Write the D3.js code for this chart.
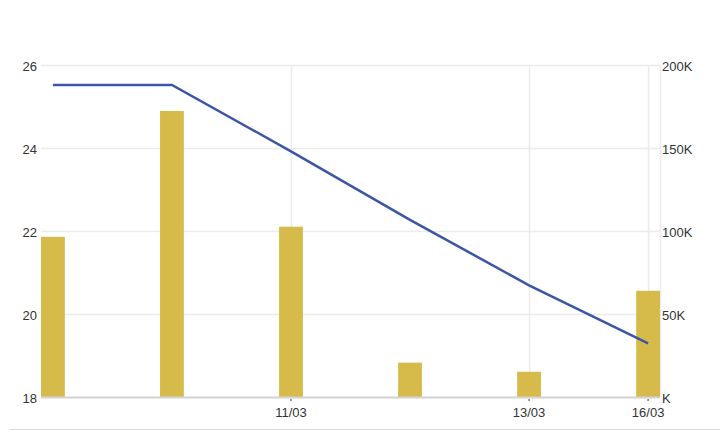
<!DOCTYPE html>
<html>
<head>
<meta charset="utf-8">
<script src="https://cdn.jsdelivr.net/npm/d3@7"></script>
<style>
  html, body { margin: 0; padding: 0; background: #fff; }
  svg { display: block; font-family: "Liberation Sans", Arial, sans-serif; }
</style>
</head>
<body>
<div id="chart"></div>
<script>
// Trading days (category axis), only some get a label
const dates = ['09/03', '10/03', '11/03', '12/03', '13/03', '16/03'];
const labeledDates = ['11/03', '13/03', '16/03'];

// Volume bars (right axis, thousands) and price line (left axis)
const volumes = [96.5, 172.3, 102.6, 20.7, 15.2, 64.0];
const prices = [25.52, 25.52, 23.92, 22.27, 20.69, 19.29];

// Axis ticks
const priceTicks = [18, 20, 22, 24, 26];
const volumeTicks = [0, 50, 100, 150, 200];

const width = 720;
const height = 430;
const margin = { top: 65, right: 60, bottom: 33, left: 41 };

const barColor = '#d6bb4b';
const lineColor = '#3c55a6';
const gridColor = '#ebebeb';
const textColor = '#333';

const svg = d3.select('#chart')
    .append('svg')
    .attr('width', width)
    .attr('height', height);

const x0 = margin.left;
const x1 = width - margin.right;
const yTop = margin.top;
const yBot = height - margin.bottom;

const x = d3.scalePoint()
    .domain(dates)
    .range([x0, x1])
    .padding(0.1);

const yPrice = d3.scaleLinear().domain([18, 26]).range([yBot, yTop]);
const yVol = d3.scaleLinear().domain([0, 200]).range([yBot, yTop]);

const barWidth = x.step() * 0.2;

// horizontal grid
svg.append('g')
    .selectAll('line')
    .data(priceTicks)
    .enter()
    .append('line')
    .attr('x1', x0)
    .attr('x2', x1)
    .attr('y1', d => yPrice(d) + 0.5)
    .attr('y2', d => yPrice(d) + 0.5)
    .attr('stroke', gridColor)
    .attr('stroke-width', 1.5);

// vertical grid at labelled dates
svg.append('g')
    .selectAll('line')
    .data(labeledDates)
    .enter()
    .append('line')
    .attr('x1', d => x(d) + 0.5)
    .attr('x2', d => x(d) + 0.5)
    .attr('y1', yTop)
    .attr('y2', yBot)
    .attr('stroke', gridColor)
    .attr('stroke-width', 1.5);

// right border
svg.append('line')
    .attr('x1', x1 + 0.5)
    .attr('x2', x1 + 0.5)
    .attr('y1', yTop)
    .attr('y2', yBot)
    .attr('stroke', gridColor)
    .attr('stroke-width', 1.5);

// volume bars
svg.append('g')
    .selectAll('rect')
    .data(volumes)
    .enter()
    .append('rect')
    .attr('x', (d, i) => x(dates[i]) - barWidth / 2)
    .attr('y', d => yVol(d))
    .attr('width', barWidth)
    .attr('height', d => yBot - yVol(d))
    .attr('fill', barColor);

// price line
const line = d3.line()
    .x((d, i) => x(dates[i]))
    .y(d => yPrice(d));

svg.append('path')
    .datum(prices)
    .attr('d', line)
    .attr('fill', 'none')
    .attr('stroke', lineColor)
    .attr('stroke-width', 2.5);

// bottom axis line
svg.append('line')
    .attr('x1', x0)
    .attr('x2', x1)
    .attr('y1', yBot + 0.5)
    .attr('y2', yBot + 0.5)
    .attr('stroke', '#d4d4d4')
    .attr('stroke-width', 2);

// x ticks + labels
const xTicks = svg.append('g')
    .selectAll('g')
    .data(labeledDates)
    .enter()
    .append('g')
    .attr('transform', d => `translate(${x(d)},0)`);

xTicks.append('line')
    .attr('y1', yBot + 2)
    .attr('y2', yBot + 4)
    .attr('stroke', '#555')
    .attr('stroke-width', 1.2);

xTicks.append('text')
    .attr('y', yBot + 20)
    .attr('text-anchor', 'middle')
    .attr('font-size', '13px')
    .attr('fill', textColor)
    .text(d => d);

// left axis labels
svg.append('g')
    .selectAll('text')
    .data(priceTicks)
    .enter()
    .append('text')
    .attr('x', x0 - 4)
    .attr('y', d => yPrice(d) + 1)
    .attr('dy', '0.35em')
    .attr('text-anchor', 'end')
    .attr('font-size', '13px')
    .attr('fill', textColor)
    .text(d => d);

// right axis labels
svg.append('g')
    .selectAll('text')
    .data(volumeTicks)
    .enter()
    .append('text')
    .attr('x', x1 + 2)
    .attr('y', d => yVol(d) + 1)
    .attr('dy', '0.35em')
    .attr('text-anchor', 'start')
    .attr('font-size', '13px')
    .attr('fill', textColor)
    .text(d => (d === 0 ? '' : d) + 'K');

// footer separator
svg.append('line')
    .attr('x1', 10)
    .attr('x2', width)
    .attr('y1', 429.5)
    .attr('y2', 429.5)
    .attr('stroke', '#dcdcdc')
    .attr('stroke-width', 1);
</script>
</body>
</html>
